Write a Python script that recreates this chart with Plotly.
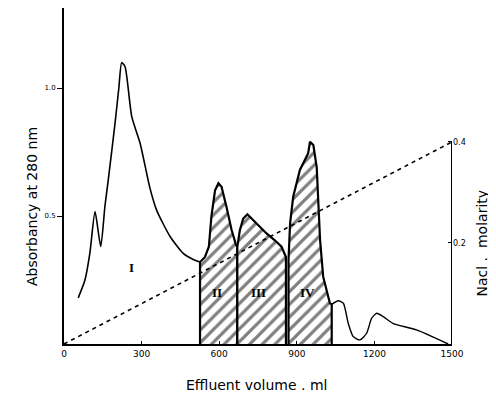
import plotly.graph_objects as go

# ---------------- data ----------------
# Fraction I (unhatched part of the elution profile)
vol_I = [55, 81, 100, 120, 142, 158, 171, 197, 212, 223, 236, 262, 294, 332, 358, 410, 461, 500, 526]
abs_I = [0.18, 0.25, 0.355, 0.517, 0.38, 0.536, 0.64, 0.86, 1.0, 1.099, 1.083, 0.888, 0.785, 0.61, 0.523, 0.42, 0.354, 0.33, 0.32]

# Fraction II (hatched)
vol_II = [526, 545, 560, 570, 584, 597, 609, 628, 648, 665, 670]
abs_II = [0.32, 0.34, 0.38, 0.50, 0.60, 0.628, 0.614, 0.536, 0.445, 0.387, 0.38]

# Fraction III (hatched)
vol_III = [670, 680, 693, 709, 725, 750, 783, 815, 841, 858]
abs_III = [0.38, 0.445, 0.49, 0.507, 0.49, 0.465, 0.432, 0.405, 0.38, 0.34]

# Fraction IV (hatched)
vol_IV = [868, 874, 886, 912, 944, 951, 964, 977, 983, 990, 1002, 1028, 1035]
abs_IV = [0.328, 0.47, 0.575, 0.68, 0.745, 0.79, 0.777, 0.69, 0.5625, 0.406, 0.263, 0.159, 0.155]

# Tail after fraction IV
vol_tail = [1035, 1060, 1080, 1099, 1118, 1144, 1170, 1189, 1209, 1234, 1273, 1363, 1485]
abs_tail = [0.155, 0.169, 0.159, 0.08, 0.029, 0.016, 0.042, 0.10, 0.12, 0.107, 0.08, 0.055, 0.0]

# NaCl gradient
grad_vol = [0, 1500]
grad_molarity = [0, 0.4]

fraction_labels = ["I", "II", "III", "IV"]
fraction_label_vol = [262, 590, 750, 940]
fraction_label_abs = [0.30, 0.20, 0.20, 0.20]

x_ticks = [0, 300, 600, 900, 1200, 1500]
y_ticks = [0.5, 1.0]
y_tick_text = ["0.5", "1.0"]
y2_ticks = [0.2, 0.4]
y2_tick_text = ["0.2", "0.4"]

VOL_MAX = 1500
ABS_MAX = 1.3125
NACL_MAX = 0.4
NACL_AXIS_MAX = 0.665

FONT = "DejaVu Sans"

fig = go.Figure()


def closed(vols, vals):
    return [vols[0]] + vols + [vols[-1]], [0] + vals + [0]


# fraction I curve
fig.add_trace(go.Scatter(x=vol_I, y=abs_I, mode="lines",
                         line=dict(color="black", width=1.6, shape="spline", smoothing=0.6),
                         hoverinfo="skip", showlegend=False))

# hatched fractions
for vols, vals in [(vol_II, abs_II), (vol_III, abs_III), (vol_IV, abs_IV)]:
    xs, ys = closed(vols, vals)
    fig.add_trace(go.Scatter(x=xs, y=ys, mode="lines", fill="toself",
                             fillcolor="white",
                             fillpattern=dict(shape="/", fgcolor="black", bgcolor="white",
                                              size=9, solidity=0.36),
                             line=dict(color="black", width=2.2),
                             hoverinfo="skip", showlegend=False))

# tail
fig.add_trace(go.Scatter(x=vol_tail, y=abs_tail, mode="lines",
                         line=dict(color="black", width=1.4, shape="spline", smoothing=0.6),
                         hoverinfo="skip", showlegend=False))

# NaCl gradient (dashed) on right axis
fig.add_trace(go.Scatter(x=grad_vol, y=grad_molarity, mode="lines", yaxis="y2",
                         line=dict(color="black", width=1.6, dash="4px,4px"),
                         hoverinfo="skip", showlegend=False))

# fraction labels
for lab, xv, yv in zip(fraction_labels, fraction_label_vol, fraction_label_abs):
    fig.add_annotation(x=xv, y=yv, text="<b>" + lab + "</b>", showarrow=False,
                       font=dict(family="Liberation Serif", size=13, color="black"))

# right axis line (only up to 0.4 M)
fig.add_shape(type="line", xref="x", yref="y2", x0=VOL_MAX, x1=VOL_MAX, y0=0, y1=NACL_MAX,
              line=dict(color="black", width=2))

# axis titles
fig.add_annotation(xref="paper", yref="paper", x=0.495, y=-0.122, xanchor="center", yanchor="middle",
                   text="Effluent volume . ml",
                   showarrow=False, font=dict(family=FONT, size=14, color="black"))
fig.add_annotation(xref="paper", yref="paper", x=-0.083, y=0.41, xanchor="center", yanchor="middle",
                   text="Absorbancy at 280 nm",
                   textangle=-90, showarrow=False, font=dict(family=FONT, size=14, color="black"))
fig.add_annotation(xref="paper", yref="paper", x=1.078, y=0.3, xanchor="center", yanchor="middle",
                   text="Nacl .  molarity",
                   textangle=-90, showarrow=False, font=dict(family=FONT, size=14, color="black"))

# page has an 8px body margin, so the figure is drawn 8px smaller with shifted margins
fig.update_layout(
    width=488, height=386,
    margin=dict(l=56, r=44, t=0, b=50),
    paper_bgcolor="white", plot_bgcolor="white",
    font=dict(family=FONT, color="black"),
    xaxis=dict(range=[0, VOL_MAX], tickvals=x_ticks, ticktext=[str(v) for v in x_ticks],
               ticks="inside", ticklen=3, tickwidth=1.2, tickcolor="black",
               showline=True, linecolor="black", linewidth=2, showgrid=False, zeroline=False,
               tickfont=dict(size=9, family=FONT)),
    yaxis=dict(range=[0, ABS_MAX], tickvals=y_ticks, ticktext=y_tick_text,
               ticks="outside", ticklen=5, tickwidth=1.2, tickcolor="black",
               showline=True, linecolor="black", linewidth=2, showgrid=False, zeroline=False,
               tickfont=dict(size=7, family=FONT)),
    yaxis2=dict(range=[0, NACL_AXIS_MAX], overlaying="y", side="right", anchor="x",
                tickvals=y2_ticks, ticktext=y2_tick_text,
                ticks="inside", ticklen=4, tickwidth=1.2, tickcolor="black",
                showline=False, showgrid=False, zeroline=False,
                tickfont=dict(size=8, family=FONT)),
)

fig.write_html("out.html")
